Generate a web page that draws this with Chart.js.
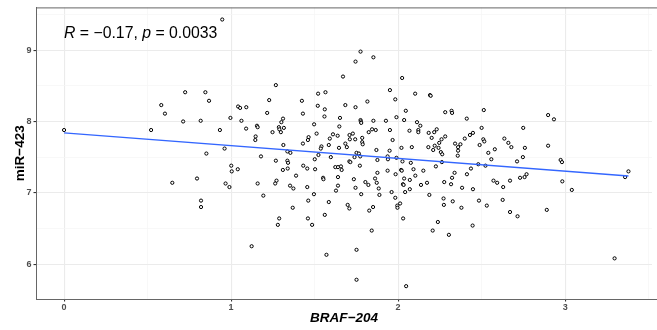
<!DOCTYPE html>
<html>
<head>
<meta charset="utf-8">
<script src="https://cdn.jsdelivr.net/npm/chart.js@4.4.1/dist/chart.umd.min.js"></script>
<style>
  html, body { margin: 0; padding: 0; background: #fff; }
  #chart { display: block; }
</style>
</head>
<body>
<canvas id="chart" width="657" height="330"></canvas>
<script>
// BRAF-204 expression (x) vs miR-423 (y)
const braf204 = [0.725,0.582,0.604,0.713,0,0.521,0.947,1.268,0.846,0.868,
1.228,1.424,1.521,1.565,1.042,1.054,1.091,1.519,1.561,1.216,
1.430,1.559,1.652,1.311,0.996,0.818,1.062,1.301,1.497,1.648,
0.933,1.090,1.155,1.159,1.286,1.289,1.316,1.248,1.298,1.512,
1.610,1.638,1.591,1.147,1.145,1.464,1.460,1.430,1.313,1.585,
1.541,1.537,1.646,0.961,1.670,1.775,1.745,1.852,2.024,1.951,
1.983,2.102,2.191,2.195,1.684,1.745,1.816,2.046,1.990,2.282,
2.320,2.323,2.513,2.411,1.775,1.777,1.779,1.852,1.927,2.036,
2.113,2.133,1.844,1.866,1.824,1.951,2.068,2.121,2.121,2.183,
2.216,2.231,1.709,1.729,1.711,1.743,1.785,1.785,1.788,1.684,
1.693,1.967,2.201,2.260,2.282,2.246,2.219,2.181,2.242,2.341,
2.373,2.359,2.399,2.430,2.448,2.500,2.510,2.516,2.488,2.020,
2.082,2.898,2.933,2.749,2.636,2.660,2.678,2.759,2.898,2.579,
0.648,0.852,0.796,0.820,0.820,1.001,1.004,1.040,0.967,0.990,
1.179,1.159,1.193,1.123,1.268,1.337,1.341,1.337,1.355,1.310,
1.339,1.272,1.264,1.353,1.373,1.389,1.432,1.456,1.501,1.503,
1.523,1.597,1.456,1.496,1.462,1.369,1.288,1.280,1.460,1.485,
1.561,1.585,1.571,1.551,1.553,1.624,1.640,1.658,1.662,1.640,
1.640,1.628,1.751,1.765,1.773,1.739,1.708,1.714,1.771,1.870,
1.949,2.210,2.256,2.264,2.359,2.357,2.540,2.558,1.876,1.937,
1.939,1.990,2.026,2.076,2.226,2.262,2.436,2.480,2.523,1.735,
1.745,1.779,1.804,1.822,1.862,1.876,1.872,1.884,1.888,1.937,
1.961,1.985,2.018,2.022,2.036,2.029,2.033,2.070,2.092,2.103,
2.042,2.070,2.137,2.151,2.173,2.187,2.276,2.317,2.323,2.338,
2.383,2.412,2.448,1.698,1.708,1.827,1.850,1.983,1.995,1.996,
2.012,2.030,1.842,1.751,1.751,2.048,2.238,2.207,2.304,2.272,
2.274,2.327,2.379,2.446,2.484,2.531,2.712,2.747,2.973,2.981,
3.379,3.359,2.983,3.040,2.571,2.593,2.629,2.670,2.730,2.757,
2.769,2.626,2.670,2.715,2.890,3.296];

const mir423 = [8.41,8.23,8.11,8.00,7.88,7.88,9.43,8.51,8.41,8.29,
8.30,8.29,8.39,8.41,8.21,8.19,8.20,8.22,8.17,8.12,
8.11,8.07,8.05,8.04,8.05,8.01,8.01,7.99,7.96,7.93,
7.88,7.90,7.94,7.92,7.92,7.89,7.91,7.85,7.85,7.83,
7.82,7.80,7.76,7.79,7.74,7.78,7.74,7.69,7.67,7.67,
7.65,7.62,7.63,7.62,8.63,8.98,8.84,8.90,8.61,8.44,
8.31,8.39,8.37,8.36,8.23,8.20,8.28,8.15,8.06,8.13,
8.15,8.12,8.16,8.04,8.02,8.00,7.98,8.01,8.01,8.02,
7.99,7.94,7.89,7.88,7.85,7.88,7.87,7.88,7.85,7.84,
7.85,7.89,7.81,7.83,7.75,7.75,7.77,7.71,7.68,7.69,
7.64,7.74,7.77,7.75,7.79,7.70,7.66,7.64,7.63,7.69,
7.68,7.64,7.76,7.81,7.84,7.91,7.75,7.72,7.67,7.63,
7.64,8.09,8.03,7.91,7.76,7.70,7.64,7.63,7.66,7.61,
7.14,7.55,7.20,6.89,6.80,7.38,7.30,7.33,7.13,7.08,
7.51,7.13,6.96,6.25,7.45,7.45,7.42,7.58,7.56,7.32,
7.34,7.17,7.13,7.10,7.06,7.24,7.38,7.34,7.47,7.33,
7.53,7.50,7.08,6.98,6.89,6.79,6.64,6.55,6.64,6.55,
6.69,6.87,6.13,7.21,7.19,7.36,7.36,7.37,7.32,7.22,
7.10,7.03,7.56,7.55,7.51,7.50,7.44,7.43,7.38,7.60,
7.59,7.60,7.57,7.54,7.59,7.52,7.56,7.47,7.46,7.51,
7.47,7.49,7.44,7.42,7.37,7.43,7.34,7.40,7.38,7.19,
7.07,6.98,7.15,7.11,7.20,7.28,7.14,7.06,6.97,7.31,
7.01,7.26,7.32,7.31,7.20,7.12,7.11,7.18,7.33,7.24,
7.01,7.05,7.11,7.31,7.14,6.97,7.15,7.12,7.21,7.28,
7.07,7.26,7.05,6.83,6.78,6.75,6.80,6.93,6.82,6.79,
6.85,6.64,6.47,6.20,5.78,5.69,6.59,6.47,6.41,6.92,
6.83,6.88,6.79,6.54,6.89,6.82,7.44,7.50,7.46,7.43,
7.30,7.22,7.16,7.04,7.17,7.14,7.08,7.17,7.21,7.22,
7.26,6.90,6.73,6.67,6.76,6.08];

// fitted regression line (ends)
const fitX = [0, 3.379];
const fitY = [7.84, 7.235];

// axis ticks / grid
const xMajor = [0, 1, 2, 3];
const xMinor = [0.5, 1.5, 2.5, 3.5];
const yMajor = [6, 7, 8, 9];
const yMinor = [6.5, 7.5, 8.5, 9.5];

const FONT = "'Liberation Sans', Arial, sans-serif";

const points = braf204.map((x, i) => ({ x: x, y: mir423[i] }));
const fitLine = fitX.map((x, i) => ({ x: x, y: fitY[i] }));

function setTicks(major, minor) {
    return scale => {
        const all = major.concat(minor).sort((a, b) => a - b);
        scale.ticks = all.map(v => ({ value: v }));
    };
}

function gridStyle(major) {
    const isMajor = ctx => major.includes(ctx.tick && ctx.tick.value);
    return {
        color: ctx => isMajor(ctx) ? '#EBEBEB' : '#F5F5F5',
        lineWidth: ctx => isMajor(ctx) ? 1.1 : 0.7,
        tickColor: ctx => isMajor(ctx) ? '#333333' : 'rgba(0,0,0,0)',
        tickLength: 2.5,
        drawTicks: true
    };
}

// panel border + correlation label
const panelPlugin = {
    id: 'panel',
    afterDraw(chart) {
        const { ctx, chartArea: a, scales } = chart;
        ctx.save();
        ctx.strokeStyle = '#666666';
        ctx.lineWidth = 1;
        ctx.strokeRect(a.left + 0.5, a.top + 0.5, a.right - a.left + 20, a.bottom - a.top);

        // R = −0.17, p = 0.0033
        const parts = [
            ['italic', 'R'], ['normal', ' = \u22120.17, '], ['italic', 'p'], ['normal', ' = 0.0033']
        ];
        let x = scales.x.getPixelForValue(0);
        const y = a.top + 31;
        ctx.fillStyle = '#000';
        ctx.textBaseline = 'alphabetic';
        parts.forEach(([style, txt]) => {
            ctx.font = style + ' 15.8px ' + FONT;
            ctx.fillText(txt, x, y);
            x += ctx.measureText(txt).width;
        });
        ctx.restore();
    }
};

new Chart(document.getElementById('chart'), {
    type: 'scatter',
    data: {
        datasets: [
            {
                type: 'line',
                data: fitLine,
                borderColor: '#3366FF',
                borderWidth: 1.3,
                pointRadius: 0,
                fill: false,
                order: 0
            },
            {
                data: points,
                pointRadius: 1.6,
                borderWidth: 1,
                borderColor: '#000000',
                backgroundColor: 'rgba(255,255,255,0.9)',
                order: 1
            }
        ]
    },
    options: {
        responsive: false,
        animation: false,
        devicePixelRatio: 1,
        layout: { padding: { top: 4, left: 0, right: 0, bottom: 0 } },
        plugins: { legend: { display: false }, tooltip: { enabled: false } },
        scales: {
            x: {
                type: 'linear',
                min: -0.168,
                max: 3.52,
                afterBuildTicks: setTicks(xMajor, xMinor),
                afterFit: s => { s.height = 31; },
                grid: gridStyle(xMajor),
                border: { display: true, color: '#666666', width: 1 },
                ticks: {
                    autoSkip: false,
                    maxRotation: 0,
                    padding: 1,
                    color: '#4D4D4D',
                    font: { family: FONT, size: 9, weight: 'bold' },
                    callback: v => xMajor.includes(v) ? String(v) : ''
                },
                title: {
                    display: true,
                    text: 'BRAF\u2212204',
                    color: '#000',
                    padding: { top: 0, bottom: 4 },
                    font: { family: FONT, size: 13.5, weight: 'bold', style: 'italic' }
                }
            },
            y: {
                type: 'linear',
                min: 5.51,
                max: 9.60,
                afterBuildTicks: setTicks(yMajor, yMinor),
                afterFit: s => { s.width = 36; },
                grid: gridStyle(yMajor),
                border: { display: true, color: '#666666', width: 1 },
                ticks: {
                    autoSkip: false,
                    padding: 2,
                    color: '#4D4D4D',
                    font: { family: FONT, size: 9, weight: 'bold' },
                    callback: v => yMajor.includes(v) ? String(v) : ''
                },
                title: {
                    display: true,
                    text: 'miR\u2212423',
                    color: '#000',
                    padding: { top: 12, bottom: 0 },
                    font: { family: FONT, size: 13.5, weight: 'bold' }
                }
            }
        }
    },
    plugins: [panelPlugin]
});
</script>
</body>
</html>
